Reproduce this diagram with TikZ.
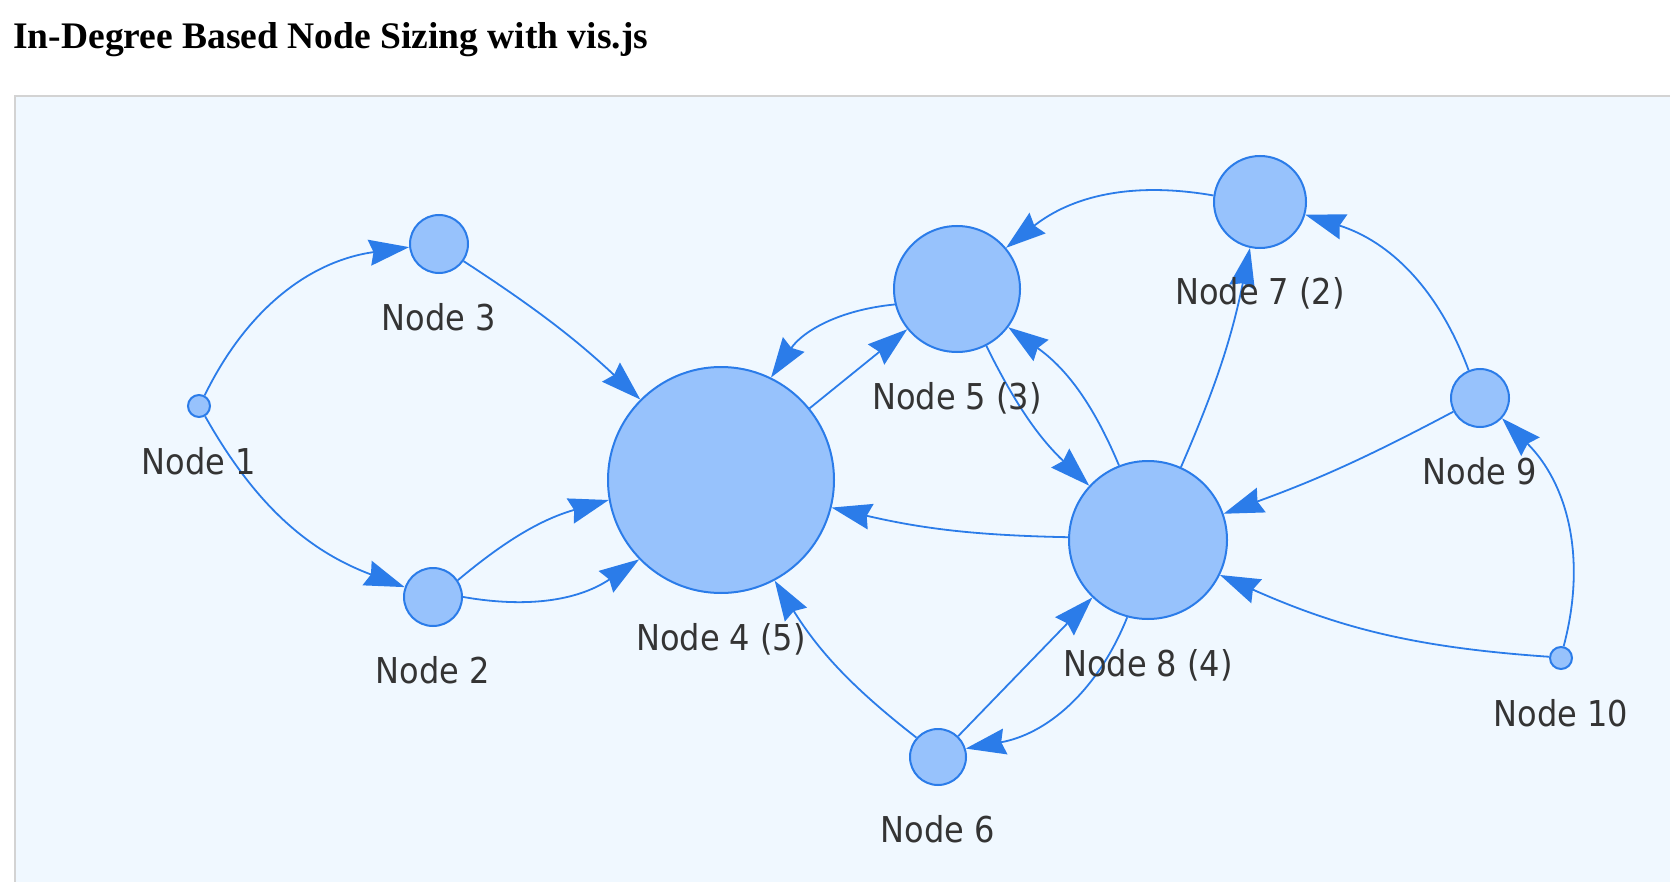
\documentclass[tikz,border=0pt]{standalone}
\usepackage{fontspec}
\setmainfont{Liberation Serif}
\newfontfamily\labelfont{DejaVu Sans Condensed}
\usetikzlibrary{positioning,arrows.meta}
\definecolor{vFill}{HTML}{97C2FC}
\definecolor{vLine}{HTML}{2B7CE9}
\definecolor{vBack}{HTML}{F0F8FF}
\definecolor{vFrame}{HTML}{D3D3D3}
\definecolor{vText}{HTML}{343434}
\tikzset{
  vdot/.style={circle, draw=vLine, fill=vFill, line width=1pt, inner sep=0pt},
  lbl/.style={font=\labelfont\fontsize{17.8}{20}\selectfont, text=vText,
              inner sep=0pt, anchor=base},
  link/.style={-{Stealth[length=20pt,width=13pt,inset=2pt]}, draw=vLine,
               line width=0.9pt},
}

\begin{document}
\begin{tikzpicture}[x=0.5pt,y=0.5pt]
  \useasboundingbox (0,0) rectangle (1670,-882);
  \clip (0,0) rectangle (1670,-882);

  % title and canvas
  \node[anchor=base west, inner sep=0pt,
        font=\bfseries\fontsize{18.75}{22}\selectfont] (title) at (13,-49)
        {In-Degree Based Node Sizing with vis.js};
  \draw[fill=vBack, draw=vFrame, line width=1pt] (15,-96) rectangle (1700,-920);

  %====================== NODES ======================
  \node[vdot, minimum size=11pt]  (n1)  at (199,-406) {};
  \node[vdot, minimum size=29pt]  (n2)  at (433,-597) {};
  \node[vdot, minimum size=29pt]  (n3)  at (439,-244) {};
  \node[vdot, minimum size=113pt] (n4)  at (721,-480) {};
  \node[vdot, minimum size=63pt]  (n5)  at (957,-289) {};
  \node[vdot, minimum size=28pt]  (n6)  at (938,-757) {};
  \node[vdot, minimum size=46pt]  (n7)  at (1260,-202) {};
  \node[vdot, minimum size=79pt]  (n8)  at (1148,-540) {};
  \node[vdot, minimum size=29pt]  (n9)  at (1480,-398) {};
  \node[vdot, minimum size=11pt]  (n10) at (1561,-658) {};

  %====================== EDGES ======================
  \draw[link] (n1) to[bend left=28] (n3);
  \draw[link] (n1) to[bend right=20] (n2);
  \draw[link] (n3) to[bend left=5] (n4);
  \draw[link] (n2) to[bend left=12] (n4);
  \draw[link] (n2) to[bend right=22] (n4);
  \draw[link] (n4) -- (n5);
  \draw[link] (n5) to[bend right=25] (n4);
  \draw[link] (n7) to[bend right=24] (n5);
  \draw[link] (n5) to[bend right=10] (n8);
  \draw[link] (n8) to[bend right=16] (n5);
  \draw[link] (n8) to[bend left=6] (n4);
  \draw[link] (n8) to[bend right=6] (n7);
  \draw[link] (n9) to[bend right=26] (n7);
  \draw[link] (n9) to[bend left=4] (n8);
  \draw[link] (n10) to[bend left=10] (n8);
  \draw[link] (n10) to[bend right=30] (n9);
  \draw[link] (n6) to[bend left=10] (n4);
  \draw[link] (n6) -- (n8);
  \draw[link] (n8) to[bend left=29] (n6);

  %====================== LABELS ======================
  \node[below=28pt of n1, lbl]  (l1)  {Node 1};
  \node[below=28pt of n2, lbl]  (l2)  {Node 2};
  \node[below=28pt of n3, lbl]  (l3)  {Node 3};
  \node[below=28pt of n4, lbl]  (l4)  {Node 4 (5)};
  \node[below=28pt of n5, lbl]  (l5)  {Node 5 (3)};
  \node[below=28pt of n6, lbl]  (l6)  {Node 6};
  \node[below=28pt of n7, lbl]  (l7)  {Node 7 (2)};
  \node[below=28pt of n8, lbl]  (l8)  {Node 8 (4)};
  \node[below=28pt of n9, lbl]  (l9)  {Node 9};
  \node[below=28pt of n10, lbl] (l10) {Node 10};
\end{tikzpicture}
\end{document}
